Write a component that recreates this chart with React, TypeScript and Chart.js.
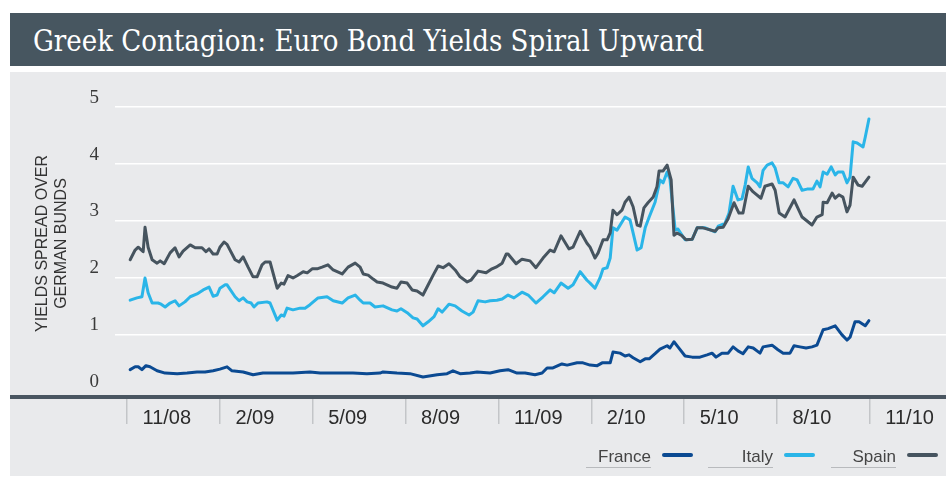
import React, { useEffect, useRef } from 'react';
import { Chart, registerables } from 'chart.js';

Chart.register(...registerables);

const TITLE = 'Greek Contagion: Euro Bond Yields Spiral Upward';
const Y_TITLE = ['YIELDS SPREAD OVER', 'GERMAN BUNDS'];
const X_TICK_LABELS = ['11/08', '2/09', '5/09', '8/09', '11/09', '2/10', '5/10', '8/10', '11/10'];
const Y_TICKS = [0, 1, 2, 3, 4, 5];
const SERIES_NAMES = ['France', 'Italy', 'Spain'];
const SERIES_COLORS = ['#0b4a92', '#2ab5e8', '#46545f'];

// [months since 1 Nov 2008, spread in percentage points]
const france: [number, number][] = [
  [0.10, 0.39], [0.26, 0.44], [0.36, 0.44], [0.48, 0.39], [0.61, 0.46], [0.74, 0.44], [0.97, 0.37],
  [1.23, 0.33], [1.62, 0.32], [1.94, 0.33], [2.26, 0.35], [2.52, 0.35], [2.78, 0.37], [3.00, 0.40],
  [3.23, 0.44], [3.39, 0.37], [3.75, 0.35], [4.07, 0.30], [4.39, 0.33], [4.85, 0.33], [5.36, 0.33],
  [5.91, 0.35], [6.24, 0.33], [6.79, 0.33], [7.30, 0.33], [7.75, 0.32], [8.17, 0.33], [8.27, 0.35],
  [8.72, 0.33], [9.14, 0.32], [9.56, 0.26], [10.02, 0.30], [10.34, 0.32], [10.53, 0.37], [10.76, 0.32],
  [11.08, 0.33], [11.31, 0.35], [11.73, 0.33], [12.05, 0.37], [12.31, 0.39], [12.60, 0.33], [12.86, 0.33],
  [13.18, 0.30], [13.41, 0.33], [13.57, 0.42], [13.76, 0.42], [14.05, 0.49], [14.22, 0.47], [14.54, 0.51],
  [14.73, 0.51], [14.96, 0.47], [15.19, 0.46], [15.35, 0.51], [15.61, 0.51], [15.70, 0.70], [15.93, 0.68],
  [16.09, 0.63], [16.22, 0.65], [16.35, 0.60], [16.58, 0.53], [16.74, 0.58], [16.87, 0.58], [17.06, 0.67],
  [17.22, 0.75], [17.45, 0.81], [17.54, 0.77], [17.67, 0.88], [17.80, 0.79], [18.03, 0.63], [18.26, 0.61],
  [18.51, 0.61], [18.74, 0.65], [18.90, 0.68], [19.03, 0.61], [19.22, 0.68], [19.42, 0.68], [19.58, 0.79],
  [19.74, 0.72], [19.90, 0.67], [20.07, 0.79], [20.23, 0.77], [20.45, 0.68], [20.55, 0.79], [20.84, 0.82],
  [21.03, 0.74], [21.20, 0.68], [21.42, 0.68], [21.55, 0.81], [21.74, 0.79], [21.94, 0.77], [22.13, 0.79],
  [22.29, 0.82], [22.49, 1.09], [22.65, 1.11], [22.88, 1.16], [23.10, 1.00], [23.26, 0.91], [23.36, 0.96],
  [23.52, 1.23], [23.65, 1.23], [23.85, 1.16], [23.97, 1.25],
];

const italy: [number, number][] = [
  [0.10, 1.61], [0.32, 1.65], [0.48, 1.67], [0.58, 2.00], [0.68, 1.74], [0.81, 1.56], [1.00, 1.56],
  [1.10, 1.54], [1.23, 1.49], [1.39, 1.56], [1.55, 1.60], [1.68, 1.51], [1.87, 1.58], [2.04, 1.67],
  [2.26, 1.72], [2.46, 1.79], [2.65, 1.84], [2.78, 1.68], [2.91, 1.70], [3.00, 1.82], [3.17, 1.88],
  [3.23, 1.88], [3.49, 1.67], [3.62, 1.60], [3.75, 1.65], [3.88, 1.58], [4.01, 1.56], [4.10, 1.49],
  [4.23, 1.56], [4.52, 1.58], [4.62, 1.56], [4.85, 1.26], [4.98, 1.35], [5.07, 1.33], [5.17, 1.47],
  [5.36, 1.44], [5.59, 1.47], [5.75, 1.47], [5.91, 1.53], [6.17, 1.65], [6.46, 1.67], [6.66, 1.60],
  [6.95, 1.56], [7.14, 1.65], [7.37, 1.70], [7.53, 1.61], [7.63, 1.56], [7.85, 1.56], [8.01, 1.49],
  [8.27, 1.51], [8.56, 1.44], [8.72, 1.42], [8.85, 1.46], [9.05, 1.39], [9.24, 1.30], [9.37, 1.28],
  [9.56, 1.16], [9.73, 1.23], [9.92, 1.32], [10.05, 1.46], [10.18, 1.40], [10.40, 1.54], [10.60, 1.51],
  [10.82, 1.42], [11.05, 1.35], [11.18, 1.40], [11.34, 1.60], [11.57, 1.58], [11.73, 1.60], [11.95, 1.61],
  [12.12, 1.63], [12.31, 1.70], [12.50, 1.65], [12.76, 1.75], [12.96, 1.70], [13.21, 1.56], [13.44, 1.67],
  [13.67, 1.79], [13.80, 1.74], [14.02, 1.91], [14.25, 1.82], [14.41, 1.88], [14.64, 2.11], [14.86, 1.96],
  [14.96, 1.91], [15.12, 1.82], [15.28, 2.00], [15.38, 2.16], [15.51, 2.18], [15.61, 2.35], [15.70, 2.88],
  [15.83, 2.84], [16.09, 3.07], [16.25, 3.02], [16.35, 2.79], [16.48, 2.49], [16.61, 2.53], [16.74, 2.88],
  [16.87, 3.07], [17.06, 3.33], [17.22, 3.72], [17.32, 3.67], [17.45, 3.86], [17.54, 3.74], [17.71, 2.84],
  [17.80, 2.86], [18.03, 2.67], [18.26, 2.68], [18.42, 2.88], [18.68, 2.88], [19.00, 2.81], [19.10, 2.91],
  [19.32, 2.96], [19.45, 3.14], [19.58, 3.61], [19.74, 3.37], [19.87, 3.39], [19.97, 3.63], [20.07, 3.95],
  [20.19, 3.75], [20.36, 3.67], [20.45, 3.60], [20.55, 3.89], [20.68, 3.98], [20.84, 4.02], [20.94, 3.93],
  [21.07, 3.67], [21.20, 3.67], [21.36, 3.60], [21.52, 3.75], [21.65, 3.72], [21.81, 3.54], [21.97, 3.56],
  [22.16, 3.56], [22.29, 3.70], [22.39, 3.60], [22.49, 3.86], [22.62, 3.82], [22.75, 3.95], [22.88, 3.81],
  [22.97, 3.86], [23.13, 3.86], [23.26, 3.67], [23.36, 3.77], [23.46, 4.39], [23.59, 4.37], [23.78, 4.30],
  [23.85, 4.47], [23.97, 4.79],
];

const spain: [number, number][] = [
  [0.10, 2.32], [0.26, 2.49], [0.36, 2.54], [0.52, 2.46], [0.58, 2.89], [0.68, 2.54], [0.81, 2.32],
  [0.97, 2.26], [1.07, 2.30], [1.20, 2.25], [1.39, 2.44], [1.55, 2.53], [1.68, 2.37], [1.81, 2.47],
  [2.04, 2.58], [2.20, 2.53], [2.42, 2.53], [2.55, 2.46], [2.65, 2.51], [2.78, 2.42], [2.91, 2.42],
  [3.00, 2.54], [3.13, 2.63], [3.23, 2.59], [3.49, 2.32], [3.62, 2.28], [3.75, 2.37], [3.91, 2.19],
  [4.07, 2.02], [4.20, 2.02], [4.36, 2.23], [4.46, 2.28], [4.62, 2.28], [4.85, 1.82], [4.98, 1.91],
  [5.07, 1.89], [5.20, 2.04], [5.36, 2.00], [5.49, 2.04], [5.69, 2.11], [5.82, 2.09], [5.98, 2.16],
  [6.14, 2.16], [6.30, 2.19], [6.49, 2.23], [6.66, 2.14], [6.95, 2.07], [7.14, 2.19], [7.37, 2.26],
  [7.53, 2.19], [7.63, 2.07], [7.79, 2.05], [7.95, 1.98], [8.08, 1.93], [8.27, 1.91], [8.56, 1.84],
  [8.72, 1.82], [8.85, 1.93], [9.05, 1.91], [9.21, 1.79], [9.37, 1.77], [9.56, 1.70], [9.73, 1.88],
  [9.89, 2.05], [10.05, 2.21], [10.21, 2.18], [10.40, 2.25], [10.60, 2.14], [10.76, 2.02], [10.99, 1.93],
  [11.11, 1.96], [11.34, 2.12], [11.60, 2.09], [11.79, 2.16], [11.92, 2.19], [12.12, 2.26], [12.25, 2.42],
  [12.31, 2.42], [12.57, 2.25], [12.76, 2.33], [13.02, 2.30], [13.21, 2.18], [13.44, 2.35], [13.67, 2.49],
  [13.80, 2.46], [14.02, 2.74], [14.28, 2.51], [14.41, 2.54], [14.64, 2.82], [14.86, 2.61], [14.96, 2.54],
  [15.12, 2.35], [15.22, 2.44], [15.38, 2.67], [15.51, 2.67], [15.61, 2.79], [15.70, 3.19], [15.83, 3.11],
  [15.99, 3.19], [16.09, 3.33], [16.22, 3.42], [16.35, 3.25], [16.48, 2.93], [16.58, 2.91], [16.70, 3.23],
  [16.83, 3.32], [17.00, 3.42], [17.12, 3.60], [17.19, 3.88], [17.32, 3.88], [17.45, 3.98], [17.58, 3.72],
  [17.67, 2.75], [17.77, 2.79], [17.93, 2.74], [18.06, 2.67], [18.26, 2.68], [18.42, 2.88], [18.61, 2.88],
  [19.00, 2.82], [19.10, 2.88], [19.26, 2.89], [19.42, 3.04], [19.61, 3.32], [19.77, 3.14], [19.90, 3.14],
  [20.07, 3.61], [20.23, 3.51], [20.48, 3.40], [20.61, 3.61], [20.84, 3.65], [20.94, 3.54], [21.07, 3.14],
  [21.26, 3.07], [21.55, 3.37], [21.81, 3.07], [22.13, 2.93], [22.29, 3.07], [22.46, 3.11], [22.49, 3.33],
  [22.62, 3.32], [22.78, 3.49], [22.88, 3.40], [23.00, 3.46], [23.13, 3.42], [23.26, 3.16], [23.36, 3.28],
  [23.46, 3.77], [23.62, 3.63], [23.75, 3.61], [23.97, 3.77],
];

const SERIES = [france, italy, spain];

const AXIS_COLOR = '#4a5661';
const PANEL_BG = '#e9eaec';

const extendAxisLine = {
  id: 'extendAxisLine',
  afterDraw(chart: any) {
    const { ctx, chartArea, scales } = chart;
    const y = scales.x.top;
    ctx.save();
    ctx.strokeStyle = AXIS_COLOR;
    ctx.lineWidth = 4;
    ctx.beginPath();
    ctx.moveTo(0, y);
    ctx.lineTo(chartArea.left + 2, y);
    ctx.stroke();
    ctx.restore();
  },
};

function ChartPanel() {
  const ref = useRef<HTMLCanvasElement | null>(null);
  useEffect(() => {
    if (!ref.current) return;
    const xTickValues = X_TICK_LABELS.flatMap((_, i) => [i * 3, i * 3 + 0.5]);
    const datasets = SERIES.map((s, i) => ({
      label: SERIES_NAMES[i],
      data: s.map(([x, y]) => ({ x, y })),
      borderColor: SERIES_COLORS[i],
      backgroundColor: SERIES_COLORS[i],
      borderWidth: 3,
      pointRadius: 0,
      tension: 0,
      borderJoinStyle: 'round' as const,
      borderCapStyle: 'round' as const,
      order: 2 - i,
    }));
    const chart = new Chart(ref.current, {
      type: 'line',
      data: { datasets },
      options: {
        animation: false,
        responsive: false,
        maintainAspectRatio: false,
        layout: { padding: { top: 18, bottom: 19, left: 0, right: 0 } },
        plugins: { legend: { display: false }, tooltip: { enabled: false } },
        scales: {
          x: {
            type: 'linear',
            min: -0.39,
            max: 26.46,
            afterBuildTicks: (s: any) => {
              s.ticks = xTickValues.map((v) => ({ value: v }));
            },
            afterFit: (s: any) => {
              s.height = 60;
              s.paddingLeft = 0;
              s.paddingRight = 0;
            },
            grid: {
              drawOnChartArea: false,
              drawTicks: true,
              tickLength: 27,
              lineWidth: 1.5,
              color: (c: any) =>
                c.tick && Math.abs(c.tick.value % 3) < 1e-6 ? '#c3c5c8' : 'rgba(0,0,0,0)',
            },
            border: { display: true, color: AXIS_COLOR, width: 4 },
            ticks: {
              align: 'start',
              padding: -18,
              autoSkip: false,
              maxRotation: 0,
              minRotation: 0,
              color: '#2b2b2b',
              font: { family: '"Liberation Sans", Arial, sans-serif', size: 20 },
              callback: (value: any) => {
                const v = Number(value);
                const r = v % 3;
                return Math.abs(r - 0.5) < 1e-6 ? X_TICK_LABELS[Math.round((v - 0.5) / 3)] : '';
              },
            },
          },
          y: {
            type: 'linear',
            min: -0.09,
            max: 5.3,
            afterBuildTicks: (s: any) => {
              s.ticks = Y_TICKS.map((v) => ({ value: v }));
            },
            afterFit: (s: any) => {
              s.width = 105;
              s.paddingTop = 0;
              s.paddingBottom = 0;
            },
            grid: {
              drawTicks: false,
              lineWidth: 1.5,
              color: (c: any) => (c.tick && c.tick.value === 0 ? 'rgba(0,0,0,0)' : '#ffffff'),
            },
            border: { display: false },
            ticks: {
              align: 'end',
              padding: 16,
              color: '#3a3a3a',
              font: { family: '"Liberation Serif", "DejaVu Serif", serif', size: 19 },
            },
            title: {
              display: true,
              text: Y_TITLE,
              color: '#333333',
              font: { family: '"Liberation Sans", Arial, sans-serif', size: 16 },
              padding: { top: 23, bottom: 0 },
            },
          },
        },
      },
      plugins: [extendAxisLine],
    } as any);
    return () => chart.destroy();
  }, []);
  return <canvas ref={ref} width={936} height={404} style={{ display: 'block', width: 936, height: 404 }} />;
}

export default function App() {
  const legendRights = [651, 773, 896];
  return (
    <div style={{ position: 'fixed', left: 0, top: 0, width: 946, height: 477, background: '#ffffff', overflow: 'hidden' }}>
      <div
        style={{
          position: 'absolute',
          left: 10,
          top: 13,
          width: 936,
          height: 53,
          background: '#475660',
          color: '#ffffff',
          boxSizing: 'border-box',
          paddingLeft: 23,
          paddingTop: 3,
          display: 'flex',
          alignItems: 'center',
          fontFamily: '"DejaVu Serif Condensed", "DejaVu Serif", serif',
          fontStretch: 'condensed',
          fontSize: 29,
          whiteSpace: 'nowrap',
        }}
      >
        {TITLE}
      </div>
      <div style={{ position: 'absolute', left: 10, top: 72, width: 936, height: 404, background: PANEL_BG }}>
        <ChartPanel />
      </div>
      {SERIES_NAMES.map((name, i) => (
        <React.Fragment key={name}>
          <div
            style={{
              position: 'absolute',
              right: 946 - legendRights[i],
              top: 448,
              fontFamily: '"Liberation Sans", Arial, sans-serif',
              fontSize: 17,
              lineHeight: '17px',
              color: '#444444',
              whiteSpace: 'nowrap',
            }}
          >
            {name}
          </div>
          <div
            style={{
              position: 'absolute',
              left: legendRights[i] - 65,
              top: 467,
              width: 65,
              height: 1,
              background: '#b8babd',
            }}
          />
          <div
            style={{
              position: 'absolute',
              left: legendRights[i] + 11,
              top: 453,
              width: 31,
              height: 4,
              borderRadius: 2,
              background: SERIES_COLORS[i],
            }}
          />
        </React.Fragment>
      ))}
    </div>
  );
}
